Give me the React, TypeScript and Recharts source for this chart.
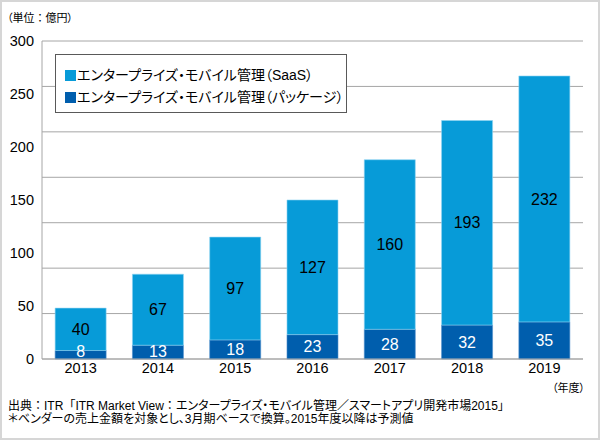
import React from 'react';
import { BarChart, Bar, XAxis, YAxis, CartesianGrid, LabelList, Legend } from 'recharts';

const years = ['2013', '2014', '2015', '2016', '2017', '2018', '2019'];
const saasValues = [40, 67, 97, 127, 160, 193, 232];
const packageValues = [8, 13, 18, 23, 28, 32, 35];
const yTicks = [0, 50, 100, 150, 200, 250, 300];
const gridIntervals = 7;
const seriesNames = [
  'エンタープライズ・モバイル管理（SaaS）',
  'エンタープライズ・モバイル管理（パッケージ）',
];
const seriesColors = ['#079BD8', '#005EAD'];
const unitText = '（単位：億円）';
const yearUnitText = '（年度）';
const sourceText = '出典：ITR「ITR Market View：エンタープライズ・モバイル管理／スマートアプリ開発市場2015」';
const noteText = '＊ベンダーの売上金額を対象とし、3月期ベースで換算。2015年度以降は予測値';

const data = years.map((year, i) => ({ year, saas: saasValues[i], pkg: packageValues[i] }));
const gridValues = Array.from({ length: gridIntervals + 1 }, (_, i) => (i * 300) / gridIntervals);

const FONT = '"Liberation Sans", Arial, "Noto Sans CJK JP", sans-serif';
const JP = { fontFamily: FONT, fontFeatureSettings: '"palt"' } as React.CSSProperties;

// keep colons and opening bracket full width, everything else proportional
const jpText = (text: string) =>
  text.split(/([：「])/).map((part, i) =>
    part === '：' || part === '「' ? (
      <span key={i} style={{ fontFeatureSettings: 'normal' }}>{part}</span>
    ) : (
      <React.Fragment key={i}>{part}</React.Fragment>
    )
  );

const LegendBox = () => (
  <div
    style={{
      ...JP,
      border: '1px solid #595959',
      background: '#fff',
      width: 292,
      height: 59,
      boxSizing: 'border-box',
      padding: '9px 0 0 9px',
      fontSize: 14,
      lineHeight: '22px',
      color: '#000',
      textAlign: 'left',
    }}
  >
    {seriesNames.map((name, i) => (
      <div key={name} style={{ display: 'flex', alignItems: 'center', whiteSpace: 'nowrap' }}>
        <span style={{ display: 'inline-block', width: 11, height: 11, background: seriesColors[i], marginRight: 1 }} />
        <span>{name}</span>
      </div>
    ))}
  </div>
);

const PkgLabel = (props: any) => {
  const { x, y, width, height, value } = props;
  const bottom = y + height;
  const cy = Math.min(y + height / 2, bottom - 7.5);
  return (
    <text x={x + width / 2} y={cy} textAnchor="middle" dominantBaseline="central" fill="#fff" fontSize={16} fontFamily={FONT}>
      {value}
    </text>
  );
};

export default function App() {
  return (
    <div style={{ position: 'absolute', left: 0, top: 0, width: 600, height: 440, background: '#fff', fontFamily: FONT }}>
      <BarChart
        width={600}
        height={440}
        data={data}
        margin={{ top: 41, right: 17, bottom: 51, left: 8 }}
        barCategoryGap="17%"
      >
        <CartesianGrid horizontal vertical={false} horizontalValues={gridValues} stroke="#a6a6a6" />
        <XAxis
          dataKey="year"
          height={30}
          tickLine={false}
          tickSize={4}
          tickMargin={0}
          axisLine={{ stroke: '#a6a6a6' }}
          tick={{ fill: '#000', fontSize: 14.5, fontFamily: FONT }}
        />
        <YAxis
          width={34}
          domain={[0, 300]}
          ticks={yTicks}
          interval={0}
          tickLine={false}
          axisLine={{ stroke: '#a6a6a6' }}
          tick={{ fill: '#000', fontSize: 14.5, fontFamily: FONT }}
        />
        <YAxis yAxisId="r" orientation="right" width={0} domain={[0, 300]} tick={false} tickLine={false} axisLine={{ stroke: '#a6a6a6' }} />
        <Legend
          layout="horizontal"
          verticalAlign="middle"
          align="center"
          wrapperStyle={{ left: 55, top: 54, width: 292 }}
          content={() => <LegendBox />}
        />
        <Bar dataKey="pkg" stackId="a" fill={seriesColors[1]} stroke="#4f8fcb" strokeWidth={0.6} isAnimationActive={false}>
          <LabelList dataKey="pkg" content={PkgLabel} />
        </Bar>
        <Bar dataKey="saas" stackId="a" fill={seriesColors[0]} stroke="#8fd3f2" strokeWidth={0.6} isAnimationActive={false}>
          <LabelList dataKey="saas" position="center" fill="#000" fontSize={16} fontFamily={FONT} />
        </Bar>
      </BarChart>
      <div style={{ ...JP, position: 'absolute', left: 7, top: 10, fontSize: 11, lineHeight: '16px', color: '#000', whiteSpace: 'nowrap' }}>{jpText(unitText)}</div>
      <div style={{ ...JP, position: 'absolute', left: 552, top: 380, fontSize: 11, lineHeight: '16px', color: '#000', whiteSpace: 'nowrap' }}>{yearUnitText}</div>
      <div style={{ ...JP, position: 'absolute', left: 8, top: 400, fontSize: 12, lineHeight: '13px', color: '#000', whiteSpace: 'nowrap' }}>
        <div>{jpText(sourceText)}</div>
        <div>{jpText(noteText)}</div>
      </div>
      <div style={{ position: 'absolute', inset: 0, border: '2px solid #d6d6d6', pointerEvents: 'none' }} />
    </div>
  );
}
